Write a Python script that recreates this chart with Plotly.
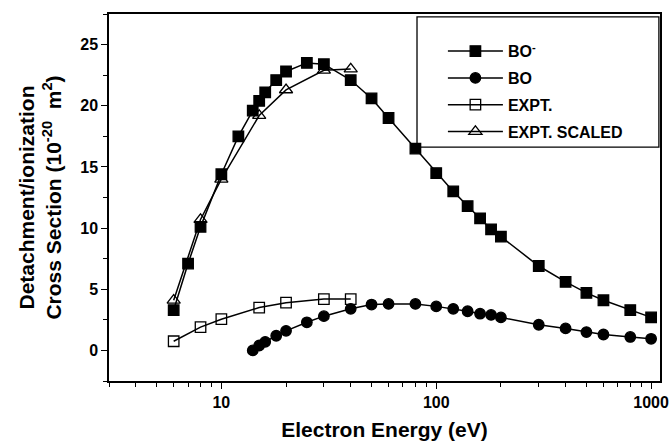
import plotly.graph_objects as go
import math

# Data
bo_minus_x = [6, 7, 8, 10, 12, 14, 15, 16, 18, 20, 25, 30, 40, 50, 60, 80, 100, 120, 140, 160, 180, 200, 300, 400, 500, 600, 800, 1000]
bo_minus_y = [3.3, 7.1, 10.1, 14.4, 17.5, 19.6, 20.4, 21.1, 22.1, 22.8, 23.5, 23.4, 22.1, 20.6, 19.0, 16.5, 14.5, 13.0, 11.8, 10.8, 9.9, 9.3, 6.9, 5.6, 4.7, 4.1, 3.3, 2.7]

bo_x = [14, 15, 16, 18, 20, 25, 30, 40, 50, 60, 80, 100, 120, 140, 160, 180, 200, 300, 400, 500, 600, 800, 1000]
bo_y = [0.0, 0.4, 0.7, 1.2, 1.6, 2.3, 2.8, 3.4, 3.75, 3.8, 3.8, 3.6, 3.4, 3.2, 3.0, 2.9, 2.7, 2.1, 1.8, 1.5, 1.3, 1.1, 0.95]

expt_x = [6, 8, 10, 15, 20, 30, 40]
expt_y = [0.75, 1.9, 2.55, 3.5, 3.9, 4.2, 4.2]

expt_scaled_x = [6, 8, 10, 15, 20, 30, 40]
expt_scaled_y = [4.1, 10.7, 14.0, 19.2, 21.3, 22.9, 23.0]

x_tickvals = [10, 100, 1000]
x_ticktext = ["10", "100", "1000"]
y_tickvals = [0, 5, 10, 15, 20, 25]

FONT = "Liberation Sans, Arial, sans-serif"

fig = go.Figure()

def add(x, y, name, symbol, group, size=10.5):
    fig.add_trace(go.Scatter(
        x=x, y=y, mode="lines+markers", name=name, legendgroup=group,
        line=dict(color="black", width=1.5),
        marker=dict(symbol=symbol, size=size, color="black",
                    line=dict(color="black", width=1.3)),
    ))

add(bo_minus_x, bo_minus_y, "<b>BO<sup>-</sup></b>", "square", "a")
add(bo_x, bo_y, "<b>BO</b>", "circle", "b")
add(expt_x, expt_y, "<b>EXPT.</b>", "square-open", "c")
add(expt_scaled_x, expt_scaled_y, "<b>EXPT. SCALED</b>", "triangle-up-open", "d", 11.5)

axis_common = dict(
    showline=True, linecolor="black", linewidth=1.5, mirror=True,
    ticks="outside", ticklen=6, tickwidth=1.3, tickcolor="black",
    showgrid=False, zeroline=False, automargin=False,
    tickfont=dict(family=FONT, size=16, color="black", weight="bold"),
)

fig.update_xaxes(
    type="log", range=[math.log10(3), math.log10(1100)],
    tickvals=x_tickvals, ticktext=x_ticktext,
    minor=dict(ticks="outside", ticklen=4, tickwidth=1.2, tickcolor="black",
               tickvals=[m * d for d in (1, 10, 100) for m in range(2, 10)]),
    title=dict(text="<b>Electron Energy (eV)</b>", font=dict(family=FONT, size=21, color="black"), standoff=12),
    **axis_common,
)
fig.update_yaxes(
    range=[-2.5, 27.5], tickvals=y_tickvals,
    minor=dict(ticks="outside", ticklen=4, tickwidth=1.2, tickcolor="black", dtick=2.5),
    title=dict(text="<b>Detachment/ionization<br>Cross Section (10<sup>-20</sup>  m<sup>2</sup>)</b>",
               font=dict(family=FONT, size=21, color="black"), standoff=13),
    **axis_common,
)

fig.add_shape(type="rect", xref="paper", yref="paper",
              x0=0.559, x1=0.998, y0=0.637, y1=0.992,
              line=dict(color="black", width=1.3), fillcolor="rgba(0,0,0,0)")

fig.update_layout(
    width=670, height=448,
    margin=dict(l=109, r=10, t=14, b=67),
    paper_bgcolor="white", plot_bgcolor="white",
    showlegend=True,
    legend=dict(x=0.606, y=0.945, xanchor="left", yanchor="top",
                bgcolor="rgba(0,0,0,0)", borderwidth=0,
                font=dict(family=FONT, size=16, color="black"),
                tracegroupgap=3, itemwidth=55),
)

fig.write_html("out.html",
               config={"displayModeBar": False},
               post_script="document.body.style.margin='0';document.body.style.padding='0';")
